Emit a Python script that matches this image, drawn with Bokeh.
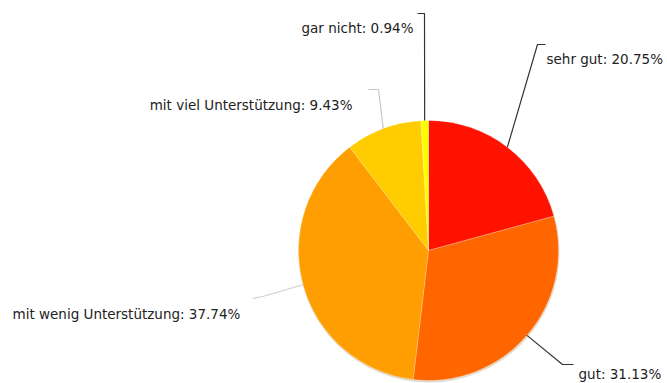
import math
from bokeh.plotting import figure
from bokeh.models import Range1d, ColumnDataSource
from bokeh.core.properties import value
from bokeh.embed import file_html
from bokeh.resources import INLINE

# ---- data ----
categories = ["sehr gut", "gut", "mit wenig Unterstützung", "mit viel Unterstützung", "gar nicht"]
percentages = [20.75, 31.13, 37.74, 9.43, 0.94]
colors = ["#FF1300", "#FF6600", "#FF9E00", "#FFCC00", "#FFFF00"]

# ---- layout (pixel coordinates of the 667x383 page) ----
W, H = 667, 383
CX, CY, R = 428, 250, 130
# elbow of leader line, end of leader line, label anchor (x, baseline y), alignment, leader colour
elbows = [(537, 44), (562, 364), (262, 296), (378, 89), (424, 13)]
ends = [(545, 44), (573, 364), (252, 298), (368, 89), (417, 13)]
label_pos = [(546, 58), (578, 373), (12, 313), (352, 104), (413, 27)]
aligns = ["left", "left", "left", "right", "right"]
leader_colors = ["#333333", "#333333", "#cfcfcf", "#c8c8c8", "#333333"]

def Y(py):
    return H - py

p = figure(width=W, height=H, output_backend="svg", toolbar_location=None,
           x_range=Range1d(0, W), y_range=Range1d(0, H), min_border=0)
p.axis.visible = False
p.grid.visible = False
p.outline_line_color = None
p.background_fill_color = "white"
p.border_fill_color = "white"

total = sum(percentages)
starts, ends_a, mids = [], [], []
acc = 0.0
for v in percentages:
    a0 = math.pi / 2 - 2 * math.pi * acc / total
    acc += v
    a1 = math.pi / 2 - 2 * math.pi * acc / total
    starts.append(a0)
    ends_a.append(a1)
    mids.append((a0 + a1) / 2)

# subtle shadow
p.circle(x=[CX + 0.5], y=[Y(CY) - 1.5], radius=R + 0.5, fill_color="#8a6a30", fill_alpha=0.25, line_color=None)

src = ColumnDataSource(dict(start=starts, end=ends_a, color=colors))
p.wedge(x=CX, y=Y(CY), radius=R, start_angle="start", end_angle="end", direction="clock",
        fill_color="color", line_color="white", line_alpha=0.4, line_width=0.6, source=src)

for i, cat in enumerate(categories):
    m = mids[i]
    ex, ey = CX + R * math.cos(m), Y(CY) + R * math.sin(m)
    bx, by = elbows[i]
    tx, ty = ends[i]
    p.line([ex, bx, tx], [ey, Y(by), Y(ty)], line_color=leader_colors[i], line_width=1.2)
    lx, ly = label_pos[i]
    label = f"{cat}: {percentages[i]:.2f}%"
    p.text(x=[lx], y=[Y(ly)], text=[label], text_align=aligns[i], text_baseline="alphabetic",
           text_font=value("DejaVu Sans"), text_font_size="13.5px", text_color="#222222")

open("out.html", "w").write(file_html(p, INLINE))
